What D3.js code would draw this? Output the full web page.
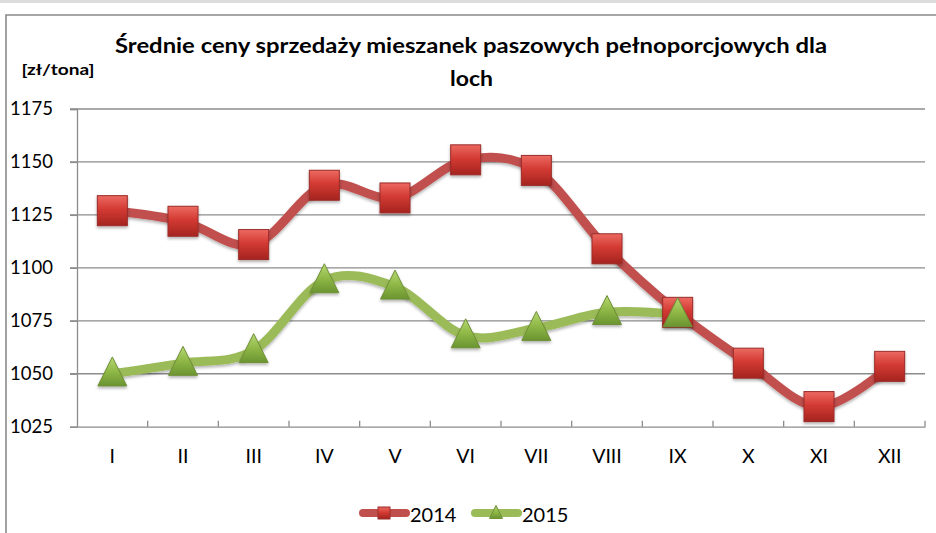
<!DOCTYPE html>
<html><head><meta charset="utf-8">
<script src="https://cdn.jsdelivr.net/npm/d3@7"></script>
<style>html,body{margin:0;padding:0;background:#fff;}svg{display:block;}</style>
</head><body>
<script>
const months = ["I","II","III","IV","V","VI","VII","VIII","IX","X","XI","XII"];
const values2014 = [1127, 1122, 1111, 1139, 1133, 1151, 1146, 1109, 1079, 1055, 1034.5, 1053.5];
const values2015 = [1050, 1055, 1061, 1094, 1091, 1068, 1071.5, 1079, 1078];
const yTicks = [1025, 1050, 1075, 1100, 1125, 1150, 1175];
const seriesNames = ["2014", "2015"];
const titleLines = ["Średnie ceny sprzedaży mieszanek paszowych pełnoporcjowych dla", "loch"];
const unitLabel = "[zł/tona]";

const W = 936, H = 533;
const svg = d3.select("body").append("svg").attr("width", W).attr("height", H);
const defs = svg.append("defs");

const gr = defs.append("linearGradient").attr("id","gRed").attr("x1",0).attr("y1",0).attr("x2",0).attr("y2",1);
gr.append("stop").attr("offset","0%").attr("stop-color","#ec6a62");
gr.append("stop").attr("offset","45%").attr("stop-color","#d33a33");
gr.append("stop").attr("offset","100%").attr("stop-color","#a4241f");
const gg = defs.append("linearGradient").attr("id","gGreen").attr("x1",0).attr("y1",0).attr("x2",0).attr("y2",1);
gg.append("stop").attr("offset","0%").attr("stop-color","#b6d872");
gg.append("stop").attr("offset","50%").attr("stop-color","#8fb847");
gg.append("stop").attr("offset","100%").attr("stop-color","#6a9430");
const sh = defs.append("filter").attr("id","shadow").attr("x","-30%").attr("y","-30%").attr("width","160%").attr("height","160%");
sh.append("feDropShadow").attr("dx",0).attr("dy",2).attr("stdDeviation",1.5).attr("flood-color","#000").attr("flood-opacity",0.3);

// outer frame
svg.append("line").attr("x1",0).attr("x2",W).attr("y1",1.5).attr("y2",1.5).attr("stroke","#dcdcdc").attr("stroke-width",3);
svg.append("path").attr("d",`M6,${H} V15 H${W}`).attr("fill","none").attr("stroke","#8a8a8a").attr("stroke-width",1.6);

const x0 = 77, x1 = 925, yTop = 109, yBot = 426.7;
const x = d3.scaleBand().domain(months).range([x0, x1]);
const y = d3.scaleLinear().domain([1025, 1175]).range([yBot, yTop]);
const cx = m => x(m) + x.bandwidth()/2;

const font = "Lato, 'Open Sans', sans-serif";

// gridlines
svg.append("g").selectAll("line").data(yTicks.slice(1)).join("line")
  .attr("x1", 70).attr("x2", x1).attr("y1", d=>y(d)).attr("y2", d=>y(d))
  .attr("stroke","#8c8c8c").attr("stroke-width",1.3);

// y axis
const yAxis = svg.append("g").attr("transform",`translate(${x0},0)`)
  .call(d3.axisLeft(y).tickValues(yTicks).tickSize(7).tickPadding(10).tickFormat(d3.format("d")));
yAxis.select(".domain").attr("stroke","#8c8c8c").attr("stroke-width",1.3);
yAxis.selectAll(".tick line").attr("stroke","#8c8c8c").attr("stroke-width",1.3);
yAxis.selectAll("text").attr("font-family",font).attr("font-size",18.5).attr("fill","#000")
  .attr("text-anchor","start").attr("x",-67);

// x axis
const xAxis = svg.append("g").attr("transform",`translate(0,${yBot})`)
  .call(d3.axisBottom(x).tickSize(0).tickPadding(22));
xAxis.select(".domain").attr("stroke","#8c8c8c").attr("stroke-width",1.3);
xAxis.selectAll("text").attr("font-family",font).attr("font-size",19.5).attr("fill","#000").attr("dy","0.71em").attr("y",22);
// category boundary ticks (pointing up inside)
const bounds = months.map(m => x(m)).concat([x1]);
svg.append("g").selectAll("line").data(bounds.slice(1)).join("line")
  .attr("x1",d=>d).attr("x2",d=>d).attr("y1",yBot).attr("y2",yBot-6)
  .attr("stroke","#8c8c8c").attr("stroke-width",1.3);

// title
const title = svg.append("g").attr("font-family",font).attr("font-weight","bold").attr("fill","#000");
title.append("text").attr("x",471).attr("y",53).attr("text-anchor","middle").attr("font-size",20)
  .attr("textLength",712).attr("lengthAdjust","spacingAndGlyphs").text(titleLines[0]);
title.append("text").attr("x",471.5).attr("y",86).attr("text-anchor","middle").attr("font-size",20)
  .attr("textLength",43).attr("lengthAdjust","spacingAndGlyphs").text(titleLines[1]);
svg.append("text").attr("x",21.5).attr("y",75).attr("font-family",font).attr("font-weight","bold")
  .attr("font-size",15).attr("textLength",73).attr("lengthAdjust","spacingAndGlyphs").text(unitLabel);

// lines
const line = d3.line().curve(d3.curveCatmullRom.alpha(0)).x(d=>cx(d.m)).y(d=>y(d.v));
const d14 = values2014.map((v,i)=>({m:months[i], v}));
const d15 = values2015.map((v,i)=>({m:months[i], v}));

svg.append("path").datum(d14).attr("d",line).attr("fill","none").attr("stroke","#c0504d")
  .attr("stroke-width",9).attr("stroke-linecap","round").attr("filter","url(#shadow)");
svg.append("path").datum(d15).attr("d",line).attr("fill","none").attr("stroke","#9bbb59")
  .attr("stroke-width",9).attr("stroke-linecap","round").attr("filter","url(#shadow)");

function square(g, s) {
  g.append("rect").attr("x",-s/2).attr("y",-s/2).attr("width",s).attr("height",s)
    .attr("fill","url(#gRed)").attr("stroke","#9a2c28").attr("stroke-width",1);
}
function triangle(g, s) {
  const h = s;
  g.append("path").attr("d",`M0,${-h*0.58} L${s/2},${h*0.42} L${-s/2},${h*0.42} Z`)
    .attr("fill","url(#gGreen)").attr("stroke","#6f8f37").attr("stroke-width",1);
}

svg.append("g").selectAll("g").data(d14).join("g")
  .attr("transform",d=>`translate(${cx(d.m)},${y(d.v)})`).attr("filter","url(#shadow)")
  .each(function(){ square(d3.select(this), 30); });
svg.append("g").selectAll("g").data(d15).join("g")
  .attr("transform",d=>`translate(${cx(d.m)},${y(d.v)})`).attr("filter","url(#shadow)")
  .each(function(){ triangle(d3.select(this), 29); });

// legend
const leg = svg.append("g").attr("font-family",font).attr("font-size",20);
const ly = 513;
leg.append("line").attr("x1",363).attr("x2",406).attr("y1",ly).attr("y2",ly).attr("stroke","#c0504d").attr("stroke-width",8).attr("stroke-linecap","round");
square(leg.append("g").attr("transform",`translate(384,${ly})`), 12);
leg.append("text").attr("x",410).attr("y",522).text(seriesNames[0]);
leg.append("line").attr("x1",475).attr("x2",518).attr("y1",ly).attr("y2",ly).attr("stroke","#9bbb59").attr("stroke-width",8).attr("stroke-linecap","round");
triangle(leg.append("g").attr("transform",`translate(496,${ly})`), 13);
leg.append("text").attr("x",522).attr("y",522).text(seriesNames[1]);
</script>
</body></html>
